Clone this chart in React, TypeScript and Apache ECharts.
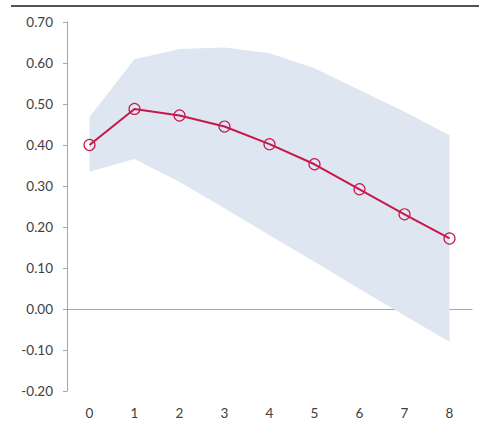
import React, { useEffect, useRef } from "react";
import * as echarts from "echarts";

// Horizons (periods) on the x axis
const periods = ["0", "1", "2", "3", "4", "5", "6", "7", "8"];
// Point estimate
const estimate = [0.4, 0.488, 0.472, 0.445, 0.402, 0.353, 0.292, 0.231, 0.172];
// Confidence band bounds
const lowerBound = [0.335, 0.366, 0.31, 0.246, 0.18, 0.115, 0.049, -0.016, -0.08];
const upperBound = [0.468, 0.609, 0.634, 0.638, 0.624, 0.587, 0.534, 0.481, 0.424];

const bandWidth = upperBound.map((u, i) => +(u - lowerBound[i]).toFixed(3));

const FONT = "Lato, 'Open Sans', sans-serif";

export default function App() {
  const ref = useRef<HTMLDivElement>(null);

  useEffect(() => {
    if (!ref.current) return;
    const chart = echarts.init(ref.current, undefined, { renderer: "svg" });
    chart.setOption({
      animation: false,
      backgroundColor: "#ffffff",
      grid: { left: 67, right: 7, top: 22, bottom: 38 },
      graphic: [
        {
          type: "line",
          shape: { x1: 11, y1: 6, x2: 479, y2: 6 },
          style: { stroke: "#1a1a1a", lineWidth: 1.5 },
        },
      ],
      xAxis: [
        {
          type: "category",
          data: periods,
          boundaryGap: true,
          position: "bottom",
          axisLine: { show: false, onZero: false },
          axisTick: { show: false },
          axisLabel: { color: "#404040", fontSize: 13.5, fontFamily: FONT, margin: 15 },
        },
        {
          type: "category",
          data: periods,
          boundaryGap: true,
          axisLine: { show: true, onZero: true, lineStyle: { color: "#a6a6a6", width: 1.2 } },
          axisTick: { show: false },
          axisLabel: { show: false },
        },
      ],
      yAxis: {
        type: "value",
        min: -0.2,
        max: 0.7,
        interval: 0.1,
        axisLine: { show: true, lineStyle: { color: "#a6a6a6", width: 1 } },
        axisTick: { show: true, inside: false, length: 4, lineStyle: { color: "#a6a6a6" } },
        splitLine: { show: false },
        axisLabel: {
          color: "#404040",
          fontSize: 13.5,
          fontFamily: FONT,
          margin: 14,
          formatter: (v: number) => v.toFixed(2),
        },
      },
      series: [
        {
          type: "line",
          data: lowerBound,
          stack: "band",
          stackStrategy: "all",
          symbol: "none",
          lineStyle: { opacity: 0 },
          silent: true,
        },
        {
          type: "line",
          data: bandWidth,
          stack: "band",
          stackStrategy: "all",
          symbol: "none",
          lineStyle: { opacity: 0 },
          areaStyle: { color: "#dee6f1", opacity: 1 },
          silent: true,
        },
        {
          type: "line",
          data: estimate,
          symbol: "circle",
          symbolSize: 11,
          lineStyle: { color: "#c8174b", width: 2 },
          itemStyle: { color: "rgba(255,255,255,0)", borderColor: "#c8174b", borderWidth: 1.2 },
          z: 5,
        },
      ],
    });
    return () => chart.dispose();
  }, []);

  return (
    <div
      ref={ref}
      style={{ position: "fixed", left: 0, top: 0, width: 479, height: 429 }}
    />
  );
}
